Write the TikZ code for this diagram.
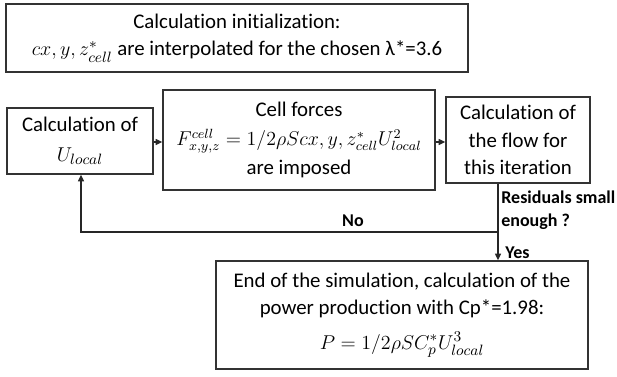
\documentclass[tikz,border=0pt]{standalone}
\usepackage{amsmath}
\usepackage{fontspec}
\setmainfont{Carlito}[Ligatures=NoCommon]
\usepackage{tikz}
\usetikzlibrary{arrows.meta}
\tikzset{stepbox/.style={draw=black!80, line width=0.9pt, rectangle, align=center, inner sep=2pt, font=\fontsize{12.5}{16.5}\selectfont}, flowline/.style={draw=black!85, line width=0.8pt, -{Triangle[length=4pt, width=3.6pt]}}, decision/.style={font=\fontsize{10.8}{13.8}\selectfont\bfseries, inner sep=0pt}}
\newcommand{\smallmath}[1]{{\fontsize{11.5}{16.5}\selectfont$#1$}}

\begin{document}
\begin{tikzpicture}[x=0.6pt, y=-0.6pt]
      \useasboundingbox (0,0) rectangle (617,376);
      \node [stepbox, minimum width=277.2pt, minimum height=40.8pt] (init) at (237,38) {Calculation initialization:\\$cx, y, z^*_{cell}$ are interpolated for the chosen λ*=3.6};
      \node [stepbox, minimum width=87.6pt, minimum height=39.6pt] (ulocal) at (80,141) {Calculation of\\[1pt]$U_{local}$};
      \node [stepbox, minimum width=163.2pt, minimum height=60pt] (forces) at (299,140) {Cell forces\\[1pt]\smallmath{F^{cell}_{x,y,z} = 1/2\rho S cx, y, z^*_{cell} U^2_{local}}\\[1pt]are imposed};
      \node [stepbox, minimum width=86.4pt, minimum height=51.6pt] (flow) at (518,140) {Calculation of\\the flow for\\this iteration};
      \node [stepbox, minimum width=223.2pt, minimum height=64.8pt] (result) at (402,315) {End of the simulation, calculation of the\\power production with Cp*=1.98:\\[4pt]$P = 1/2\rho S C^*_p U^3_{local}$};
      \coordinate (split) at (498,232);
      \draw [flowline] (ulocal.east |- 0,142) -- (forces.west |- 0,142);
      \draw [flowline] (forces.east |- 0,142) -- (flow.west |- 0,142);
      \draw [flowline] (flow.south -| split) -- (result.north -| split);
      \draw [flowline] (split) -| (ulocal.south -| 81,0);
      \node [decision] (no) at (353,221) {No};
      \node [decision, anchor=west, align=left] (residuals) at (501,210) {Residuals small\\enough ?};
      \node [decision, anchor=west] (yes) at (505,253) {Yes};
    \end{tikzpicture}
\end{document}
